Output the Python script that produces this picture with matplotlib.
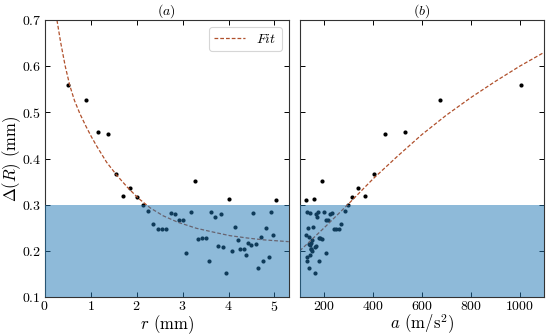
import matplotlib
matplotlib.use("Agg")
import matplotlib.pyplot as plt

# ---- data ----
r_vals = [0.52, 0.90, 1.16, 1.37, 1.555, 1.71, 1.86, 2.00, 2.13, 2.24,
          2.35, 2.46, 2.56, 2.65, 2.74, 2.84, 2.92, 3.01, 3.08, 3.18,
          3.27, 3.34, 3.42, 3.50, 3.57, 3.63, 3.70, 3.77, 3.83, 3.89,
          3.95, 4.00, 4.08, 4.14, 4.20, 4.26, 4.33, 4.38, 4.43, 4.49,
          4.53, 4.59, 4.65, 4.71, 4.76, 4.82, 4.87, 4.92, 4.97, 5.03]
acc_vals = [1005, 675, 533, 451, 403, 369, 339, 316, 298, 285,
            268, 260, 250, 241, 231, 223, 215, 209, 207, 201,
            193, 190, 183, 180, 178, 174, 171, 168, 166, 162,
            161, 159, 152, 155, 150, 148, 145, 142, 145, 140,
            140, 137, 137, 136, 131, 134, 130, 130, 127, 127]
delta_vals = [0.559, 0.528, 0.457, 0.453, 0.367, 0.320, 0.337, 0.317, 0.300, 0.287,
              0.259, 0.247, 0.247, 0.247, 0.283, 0.279, 0.268, 0.267, 0.196, 0.285,
              0.352, 0.225, 0.228, 0.227, 0.178, 0.285, 0.273, 0.210, 0.281, 0.208,
              0.153, 0.312, 0.199, 0.252, 0.224, 0.204, 0.203, 0.191, 0.217, 0.213,
              0.283, 0.215, 0.163, 0.231, 0.179, 0.250, 0.186, 0.284, 0.234, 0.310]

fit_r = [0.27, 0.35, 0.45, 0.55, 0.65, 0.77, 0.90, 1.02, 1.14, 1.35, 1.57,
         1.80, 2.04, 2.30, 2.58, 2.90, 3.30, 3.70, 4.03, 4.40, 4.75, 5.31]
fit_r_delta = [0.700, 0.652, 0.600, 0.558, 0.526, 0.497, 0.470, 0.447, 0.426, 0.392, 0.364,
               0.338, 0.314, 0.293, 0.276, 0.262, 0.249, 0.240, 0.233, 0.228, 0.224, 0.220]

fit_a = [100, 200, 300, 400, 500, 600, 700, 800, 900, 1000, 1100]
fit_a_delta = [0.200, 0.250, 0.302, 0.356, 0.405, 0.452, 0.494, 0.532, 0.567, 0.600, 0.630]

band = (0.1, 0.3)
r_ticks = [0, 1, 2, 3, 4, 5]
a_ticks = [200, 400, 600, 800, 1000]
y_ticks = [0.1, 0.2, 0.3, 0.4, 0.5, 0.6, 0.7]

# ---- style ----
plt.rcParams['font.family'] = 'serif'
plt.rcParams['font.serif'] = ['cmr10', 'DejaVu Serif']
plt.rcParams['mathtext.fontset'] = 'cm'
plt.rcParams['axes.formatter.use_mathtext'] = True
plt.rcParams['axes.unicode_minus'] = False

fit_color = '#b0502c'
band_color = '#1f77b4'

fig, (ax1, ax2) = plt.subplots(1, 2, figsize=(5.5, 3.36), dpi=100, sharey=True)
fig.subplots_adjust(left=0.081, right=0.989, top=0.940, bottom=0.116, wspace=0.045)

for ax in (ax1, ax2):
    ax.tick_params(direction='in', top=True, right=True, length=3.5, width=0.7,
                   labelsize=10, pad=2.5)
    for s in ax.spines.values():
        s.set_linewidth(0.8)
        s.set_color('#333333')
    ax.axhspan(band[0], band[1], color=band_color, alpha=0.5, lw=0, zorder=3)

# panel (a)
ax1.scatter(r_vals, delta_vals, s=9, color='black', zorder=2, lw=0)
ax1.plot(fit_r, fit_r_delta, ls='--', color=fit_color, lw=0.9, zorder=2,
         label='$Fit$', dashes=(3, 1.6))
ax1.set_xlim(0, 5.31)
ax1.set_ylim(0.1, 0.7)
ax1.set_xticks(r_ticks)
ax1.set_yticks(y_ticks)
ax1.set_xlabel('$r$ (mm)', fontsize=12, labelpad=-1)
ax1.set_ylabel(r'$\Delta(R)$ (mm)', fontsize=12, labelpad=-1)
ax1.set_title('$(a)$', fontsize=10, pad=4)
leg = ax1.legend(loc='upper right', fontsize=10, frameon=True, fancybox=True,
                 handlelength=2.2, borderpad=0.4, handletextpad=0.8)
leg.get_frame().set_edgecolor('#cccccc')
leg.get_frame().set_linewidth(0.8)

# panel (b)
ax2.scatter(acc_vals, delta_vals, s=9, color='black', zorder=2, lw=0)
ax2.plot(fit_a, fit_a_delta, ls='--', color=fit_color, lw=0.9, zorder=2,
         dashes=(3, 1.6))
ax2.set_xlim(100, 1100)
ax2.set_xticks(a_ticks)
ax2.set_xlabel('$a$ (m/s$^2$)', fontsize=12, labelpad=-1)
ax2.set_title('$(b)$', fontsize=10, pad=4)
ax2.tick_params(labelleft=False)

fig.savefig('out.png', dpi=100)
